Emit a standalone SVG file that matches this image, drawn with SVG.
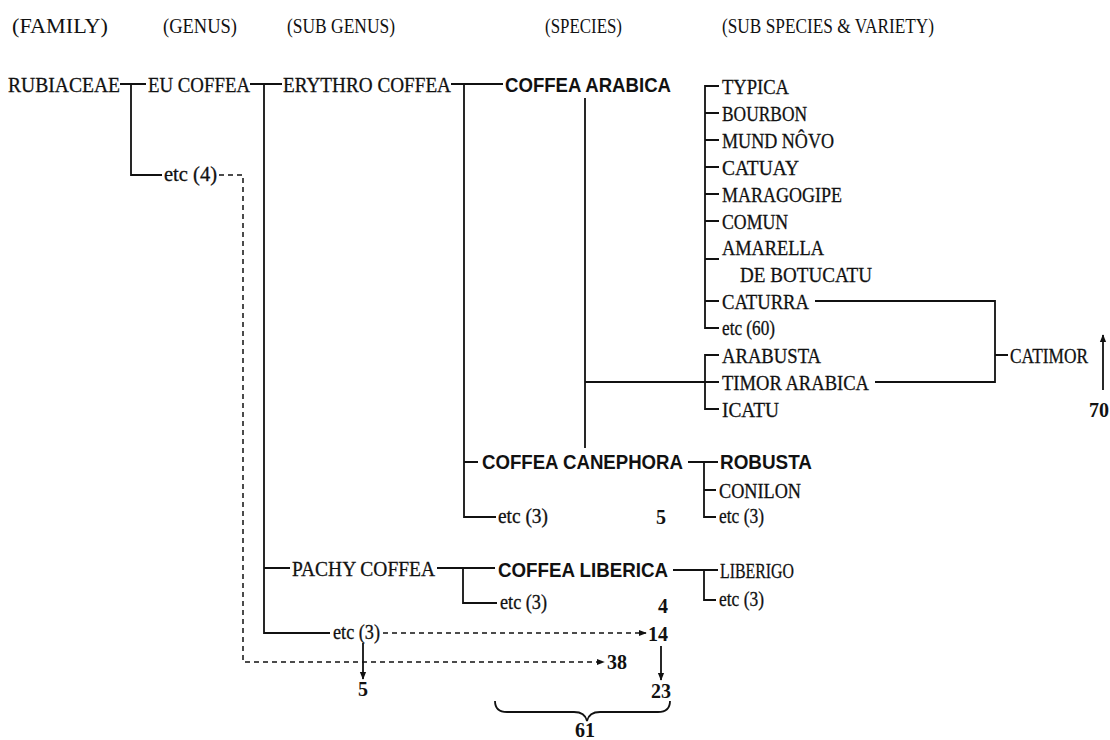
<svg xmlns="http://www.w3.org/2000/svg" width="1110" height="740" viewBox="0 0 1110 740">
<defs>
<marker id="ah" viewBox="0 0 10 10" refX="9" refY="5" markerWidth="8" markerHeight="8" markerUnits="userSpaceOnUse" orient="auto"><path d="M0,1 L10,5 L0,9 Z" fill="#111"/></marker>
</defs>
<style>
.h{font-family:"Liberation Serif",serif;font-size:20px;fill:#111}
.s{font-family:"Liberation Serif",serif;font-size:22px;fill:#111;stroke:#111;stroke-width:0.3}
.e{font-family:"Liberation Serif",serif;font-size:20px;fill:#111;stroke:#111;stroke-width:0.3}
.b{font-family:"Liberation Sans",Arial,sans-serif;font-size:21px;font-weight:bold;fill:#111}
.n{font-family:"Liberation Serif",serif;font-size:20px;font-weight:bold;fill:#111}
.l{fill:none;stroke:#111;stroke-width:1.8}
.d{fill:none;stroke:#111;stroke-width:1.5;stroke-dasharray:5 4}
</style>
<rect width="1110" height="740" fill="#fff"/>
<g id="headers">
<text class="h" x="12" y="33" textLength="96" lengthAdjust="spacingAndGlyphs">(FAMILY)</text>
<text class="h" x="163" y="33" textLength="74" lengthAdjust="spacingAndGlyphs">(GENUS)</text>
<text class="h" x="287" y="33" textLength="108" lengthAdjust="spacingAndGlyphs">(SUB GENUS)</text>
<text class="h" x="545" y="33" textLength="77" lengthAdjust="spacingAndGlyphs">(SPECIES)</text>
<text class="h" x="722" y="33" textLength="212" lengthAdjust="spacingAndGlyphs">(SUB SPECIES &amp; VARIETY)</text>
</g>
<g id="connectors">
<path class="l" d="M120,84 H146 M131,84 V175 H162"/>
<path class="l" d="M250,84 H282 M264,84 V633 H330 M264,568 H290"/>
<path class="l" d="M451,84 H503 M464,84 V517 H496 M464,462 H478"/>
<path class="l" d="M585,98 V448 M585,382 H719"/>
<path class="l" d="M719,86 H705 V328 H719 M705,113 H719 M705,140 H719 M705,167 H719 M705,194 H719 M705,221 H719 M705,259 H719 M705,301 H719"/>
<path class="l" d="M719,355 H705 V409 H719"/>
<path class="l" d="M815,301 H995 V382 H875 M995,355 H1008"/>
<path class="l" d="M688,462 H718 M704,462 V517 H716 M704,490 H716"/>
<path class="l" d="M437,568 H495 M463,568 V603 H497"/>
<path class="l" d="M673,570 H718 M704,570 V600 H716"/>
<path class="d" d="M219,175 H243 V662 H604" marker-end="url(#ah)"/>
<path class="d" d="M383,633 H646" marker-end="url(#ah)"/>
<path class="l" d="M363,643 V679" marker-end="url(#ah)" stroke-width="1.5"/>
<path class="l" d="M661,646 V680" marker-end="url(#ah)" stroke-width="1.5"/>
<path class="l" d="M1103,390 V335" marker-end="url(#ah)" stroke-width="1.5"/>
<path class="l" d="M495,701 Q495,712 507,712 L574,712 Q585,712 587,721 Q589,712 600,712 L658,712 Q670,712 670,701" stroke-width="1.5"/>
</g>
<g id="rubiaceae"><text class="s" x="8" y="92" textLength="112" lengthAdjust="spacingAndGlyphs">RUBIACEAE</text></g>
<g id="eu-coffea"><text class="s" x="148" y="92" textLength="102" lengthAdjust="spacingAndGlyphs">EU COFFEA</text></g>
<g id="etc4"><text class="e" x="164" y="181" textLength="53" lengthAdjust="spacingAndGlyphs">etc (4)</text></g>
<g id="erythro"><text class="s" x="283" y="92" textLength="168" lengthAdjust="spacingAndGlyphs">ERYTHRO COFFEA</text></g>
<g id="arabica"><text class="b" x="505" y="92" textLength="166" lengthAdjust="spacingAndGlyphs">COFFEA ARABICA</text></g>
<g id="typica"><text class="s" x="722" y="94" textLength="67" lengthAdjust="spacingAndGlyphs">TYPICA</text></g>
<g id="bourbon"><text class="s" x="722" y="121" textLength="85" lengthAdjust="spacingAndGlyphs">BOURBON</text></g>
<g id="mundnovo"><text class="s" x="722" y="148" textLength="112" lengthAdjust="spacingAndGlyphs">MUND NÔVO</text></g>
<g id="catuay"><text class="s" x="722" y="175" textLength="77" lengthAdjust="spacingAndGlyphs">CATUAY</text></g>
<g id="maragogipe"><text class="s" x="722" y="202" textLength="120" lengthAdjust="spacingAndGlyphs">MARAGOGIPE</text></g>
<g id="comun"><text class="s" x="722" y="229" textLength="66" lengthAdjust="spacingAndGlyphs">COMUN</text></g>
<g id="amarella"><text class="s" x="722" y="255" textLength="102" lengthAdjust="spacingAndGlyphs">AMARELLA</text><text class="s" x="740" y="282" textLength="132" lengthAdjust="spacingAndGlyphs">DE BOTUCATU</text></g>
<g id="caturra"><text class="s" x="722" y="309" textLength="87" lengthAdjust="spacingAndGlyphs">CATURRA</text></g>
<g id="etc60"><text class="e" x="722" y="335" textLength="53" lengthAdjust="spacingAndGlyphs">etc (60)</text></g>
<g id="arabusta"><text class="s" x="722" y="363" textLength="99" lengthAdjust="spacingAndGlyphs">ARABUSTA</text></g>
<g id="timor"><text class="s" x="722" y="390" textLength="147" lengthAdjust="spacingAndGlyphs">TIMOR ARABICA</text></g>
<g id="icatu"><text class="s" x="722" y="417" textLength="57" lengthAdjust="spacingAndGlyphs">ICATU</text></g>
<g id="catimor"><text class="s" x="1010" y="363" textLength="78" lengthAdjust="spacingAndGlyphs">CATIMOR</text></g>
<g id="n70"><text class="n" x="1109" y="417" text-anchor="end">70</text></g>
<g id="canephora"><text class="b" x="482" y="469" textLength="201" lengthAdjust="spacingAndGlyphs">COFFEA CANEPHORA</text></g>
<g id="robusta"><text class="b" x="720" y="469" textLength="92" lengthAdjust="spacingAndGlyphs">ROBUSTA</text></g>
<g id="conilon"><text class="s" x="719" y="498" textLength="82" lengthAdjust="spacingAndGlyphs">CONILON</text></g>
<g id="etc3-rob"><text class="e" x="719" y="523" textLength="45" lengthAdjust="spacingAndGlyphs">etc (3)</text></g>
<g id="etc3-ery"><text class="e" x="498" y="523" textLength="50" lengthAdjust="spacingAndGlyphs">etc (3)</text></g>
<g id="n5a"><text class="n" x="661" y="524" text-anchor="middle">5</text></g>
<g id="pachy"><text class="s" x="292" y="576" textLength="143" lengthAdjust="spacingAndGlyphs">PACHY COFFEA</text></g>
<g id="liberica"><text class="b" x="498" y="577" textLength="170" lengthAdjust="spacingAndGlyphs">COFFEA LIBERICA</text></g>
<g id="liberigo"><text class="s" x="720" y="578" textLength="74" lengthAdjust="spacingAndGlyphs">LIBERIGO</text></g>
<g id="etc3-lib"><text class="e" x="719" y="606" textLength="45" lengthAdjust="spacingAndGlyphs">etc (3)</text></g>
<g id="etc3-pachy"><text class="e" x="500" y="609" textLength="47" lengthAdjust="spacingAndGlyphs">etc (3)</text></g>
<g id="n4"><text class="n" x="663" y="613" text-anchor="middle">4</text></g>
<g id="etc3-sub"><text class="e" x="333" y="639" textLength="47" lengthAdjust="spacingAndGlyphs">etc (3)</text></g>
<g id="n14"><text class="n" x="648" y="641">14</text></g>
<g id="n38"><text class="n" x="607" y="669">38</text></g>
<g id="n5b"><text class="n" x="363" y="696" text-anchor="middle">5</text></g>
<g id="n23"><text class="n" x="661" y="698" text-anchor="middle">23</text></g>
<g id="n61"><text class="n" x="585" y="737" text-anchor="middle">61</text></g>
</svg>
